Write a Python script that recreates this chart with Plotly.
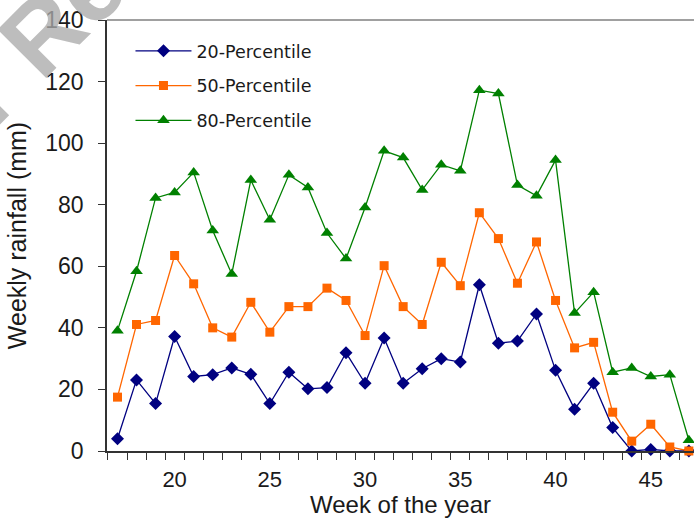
import plotly.graph_objects as go

# Weekly rainfall percentiles by week of the year
weeks = list(range(17, 48))

p20 = [4.0, 23.1, 15.4, 37.2, 24.2, 24.8, 27.0, 24.9, 15.4, 25.6, 20.2, 20.6, 31.9, 22.0, 36.7,
       22.0, 26.7, 30.0, 28.9, 54.0, 35.0, 35.7, 44.5, 26.2, 13.6, 22.0, 7.6, 0.0, 0.5, 0.0, 0.0]
p50 = [17.5, 41.1, 42.4, 63.5, 54.3, 40.0, 37.0, 48.3, 38.6, 46.9, 46.9, 52.9, 48.9, 37.5, 60.2,
       46.9, 41.1, 61.3, 53.7, 77.4, 69.0, 54.5, 67.9, 48.9, 33.5, 35.3, 12.6, 3.2, 8.7, 1.3, 0.0]
p80 = [39.1, 58.4, 82.2, 84.0, 90.5, 71.6, 57.5, 88.0, 75.1, 89.7, 85.6, 70.8, 62.5, 79.1, 97.5,
       95.3, 84.8, 93.0, 91.0, 117.2, 116.1, 86.4, 82.9, 94.5, 44.8, 51.6, 25.6, 27.0, 24.2, 24.8, 3.5]

x_labels = [20, 25, 30, 35, 40, 45]
y_ticks = [0, 20, 40, 60, 80, 100, 120, 140]
week_bounds = [w - 0.5 for w in weeks]

series = [
    ("20-Percentile", p20, "#000080", "diamond", 10),
    ("50-Percentile", p50, "#FF6600", "square", 9),
    ("80-Percentile", p80, "#008000", "triangle-up", 11),
]

fig = go.Figure()
for i, (name, vals, color, symbol, size) in enumerate(series):
    fig.add_trace(go.Scatter(
        x=weeks, y=vals, name=name, mode="lines+markers",
        legendgroup=f"g{i}",
        line=dict(color=color, width=1.3),
        marker=dict(color=color, symbol=symbol, size=size),
        cliponaxis=False,
    ))

axis_color = "#333333"
text_color = "#1a1a1a"
arial = "Liberation Sans, Arial, sans-serif"

fig.update_layout(
    width=694, height=518,
    margin=dict(l=107, r=0, t=20, b=67),
    paper_bgcolor="white", plot_bgcolor="white",
    showlegend=True,
    legend=dict(
        x=0.04, y=0.97, xanchor="left", yanchor="top",
        bgcolor="rgba(0,0,0,0)",
        font=dict(family="DejaVu Sans, Verdana, sans-serif", size=17.5, color=text_color),
        tracegroupgap=9, itemwidth=56,
    ),
    xaxis=dict(
        range=[16.45, 47.27], automargin=False,
        tickmode="array", tickvals=x_labels, ticktext=[str(v) for v in x_labels],
        ticks="", showgrid=False, zeroline=False,
        showline=True, linecolor=axis_color, linewidth=1.5,
        tickfont=dict(family=arial, size=22, color=text_color), ticklabelstandoff=8,
        minor=dict(tickmode="array", tickvals=week_bounds, ticks="outside",
                   ticklen=7, tickcolor=axis_color, tickwidth=1.3, showgrid=False),
        title=dict(text="Week of the year", standoff=3,
                   font=dict(family=arial, size=24, color=text_color)),
    ),
    yaxis=dict(
        range=[0, 140], automargin=False,
        tickmode="array", tickvals=y_ticks,
        ticks="outside", ticklen=7, tickcolor=axis_color, tickwidth=1.3,
        showgrid=False, zeroline=False,
        showline=True, linecolor=axis_color, linewidth=1.5,
        tickfont=dict(family=arial, size=23, color=text_color), ticklabelstandoff=10,
        title=dict(text="Weekly rainfall (mm)", standoff=12,
                   font=dict(family=arial, size=25, color=text_color)),
    ),
    shapes=[dict(type="line", xref="paper", yref="paper", x0=0, x1=1, y0=1, y1=1,
                 layer="above", line=dict(color="#a0a0a0", width=2))],
    annotations=[dict(
        text="<b>For Review</b>", xref="paper", yref="paper", x=-0.06, y=1.04,
        xanchor="center", yanchor="middle",
        showarrow=False, textangle=-45,
        font=dict(family=arial, size=100, color="rgba(170,170,170,0.78)"),
    )],
)

fig.write_html("out.html")
